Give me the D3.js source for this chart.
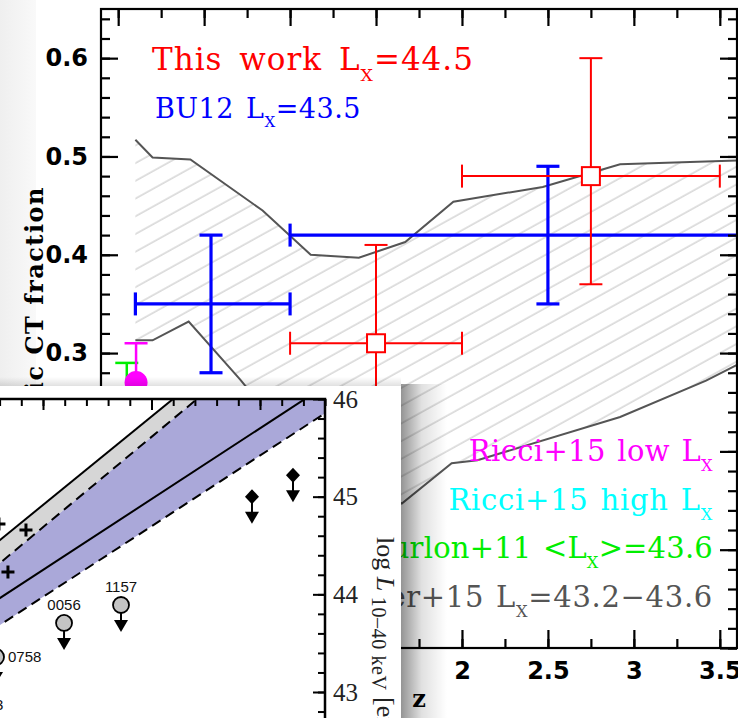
<!DOCTYPE html>
<html lang="en">
<head>
<meta charset="utf-8">
<script src="https://d3js.org/d3.v7.min.js"></script>
<style>
  body { margin: 0; background: #fff; }
  svg { display: block; }
</style>
</head>
<body>
<svg id="chart" width="738" height="718"></svg>
<script>
// ---------- main panel : CT fraction vs redshift ----------
// hatched band (upper / lower edges)
const upperZ = [0.1, 0.2, 0.42, 0.84, 1.12, 1.4, 1.67, 1.95, 2.47, 2.92, 3.6];
const upperF = [0.517, 0.499, 0.497, 0.445, 0.400, 0.397, 0.413, 0.454, 0.469, 0.492, 0.496];
const lowerZ = [0.1, 0.2, 0.41, 0.71, 1.1, 1.65, 1.94, 2.09, 2.92, 3.42, 3.6];
const lowerF = [0.313, 0.313, 0.332, 0.273, 0.19, 0.147, 0.188, 0.191, 0.235, 0.272, 0.288];

// this work (red)
const redZ = [1.5, 2.75], redZlo = [1.0, 2.0], redZhi = [2.0, 3.5];
const redF = [0.31, 0.48], redFlo = [0.2, 0.37], redFhi = [0.41, 0.60];
// BU12 (blue)
const blueZ = [0.54, 2.5], blueZlo = [0.1, 1.0], blueZhi = [1.0, 4.0];
const blueF = [0.35, 0.42], blueFlo = [0.28, 0.35], blueFhi = [0.42, 0.49];
// Ricci+15 low Lx (magenta), Burlon+11 (green)
const ricciZ = [0.104], ricciF = [0.27], ricciFlo = [0.21], ricciFhi = [0.31];
const burlonZ = [0.05], burlonF = [0.24], burlonFlo = [0.19], burlonFhi = [0.29];

const yTicks = [0, 0.1, 0.2, 0.3, 0.4, 0.5, 0.6];
const zTicks = [0, 0.5, 1, 1.5, 2, 2.5, 3, 3.5];

const legendRows = [
  { parts: [["Ricci+15 low L", 0], ["X", 1]], color: "#ff00ff", spacing: 0.35 },
  { parts: [["Ricci+15 high L", 0], ["X", 1]], color: "#00ffff", spacing: 0.75 },
  { parts: [["Burlon+11 <L", 0], ["X", 1], [">=43.6", 0]], color: "#00ee00", spacing: 0.2 },
  { parts: [["Buchner+15 L", 0], ["X", 1], ["=43.2\u221243.6", 0]], color: "#555555", spacing: 0.7 }
];

// ---------- inset panel : log L(10-40 keV) ----------
const bandV = [42.4, 45.8];
const solidHiL = [44.372, 47.45];
const dashHiL = [44.132, 47.277];
const solidMidL = [43.815, 46.28];
const dashLoL = [43.539, 46.0];

const plusV = [42.594, 42.843, 42.677];
const plusL = [44.72, 44.659, 44.229];

const srcV = [43.194, 43.719, 42.567, 42.217];
const srcL = [43.707, 43.891, 43.359, 42.87];
const srcId = ["0056", "1157", "0758", "0103"];
const srcPos = ["top", "top", "right", "right"];

const diaV = [44.926, 45.304];
const diaL = [45.0, 45.22];

const lumTicks = [43, 44, 45, 46];

// ------------------------------------------------------------
const svg = d3.select("#chart");
const defs = svg.append("defs");

svg.append("rect").attr("width", 738).attr("height", 718).attr("fill", "#fff");

// faint margin at the left of the main figure
const gl = defs.append("linearGradient").attr("id", "leftEdge");
gl.append("stop").attr("offset", "0").attr("stop-color", "#efefef");
gl.append("stop").attr("offset", "1").attr("stop-color", "#f9f9f9");
svg.append("rect").attr("x", 0).attr("y", 0).attr("width", 36).attr("height", 386).attr("fill", "url(#leftEdge)");

const x = d3.scaleLinear().domain([-0.1, 3.6]).range([101, 737]);
const y = d3.scaleLinear().domain([0, 0.65]).range([648, 9]);

const main = svg.append("g");

defs.append("clipPath").attr("id", "plotClip")
  .append("rect").attr("x", 101).attr("y", 9).attr("width", 636).attr("height", 639);

// hatch pattern
const pat = defs.append("pattern").attr("id", "hatch")
  .attr("patternUnits", "userSpaceOnUse").attr("width", 40).attr("height", 15.5)
  .attr("patternTransform", "rotate(-29)");
pat.append("line").attr("x1", 0).attr("x2", 40).attr("y1", 7).attr("y2", 7)
  .attr("stroke", "#dadada").attr("stroke-width", 1.7);

const bandPts = upperZ.map((z, i) => [x(z), y(upperF[i])])
  .concat(lowerZ.map((z, i) => [x(z), y(lowerF[i])]).reverse());
main.append("path").attr("d", "M" + bandPts.join("L") + "Z")
  .attr("fill", "url(#hatch)").attr("clip-path", "url(#plotClip)");

const line = d3.line().x(d => x(d[0])).y(d => y(d[1]));
[[upperZ, upperF], [lowerZ, lowerF]].forEach(([zs, fs]) => {
  main.append("path").attr("d", line(zs.map((z, i) => [z, fs[i]])))
    .attr("fill", "none").attr("stroke", "#555").attr("stroke-width", 2)
    .attr("clip-path", "url(#plotClip)");
});

// error bars
function errorBars(zs, zlo, zhi, fs, flo, fhi, color, w) {
  const g = main.append("g").attr("stroke", color).attr("stroke-width", w)
    .attr("clip-path", "url(#plotClip)");
  const cap = 11.5;
  zs.forEach((z, i) => {
    const cx = x(z), cy = y(fs[i]);
    g.append("line").attr("x1", cx).attr("x2", cx).attr("y1", y(flo[i])).attr("y2", y(fhi[i]));
    g.append("line").attr("x1", cx - cap).attr("x2", cx + cap).attr("y1", y(flo[i])).attr("y2", y(flo[i]));
    g.append("line").attr("x1", cx - cap).attr("x2", cx + cap).attr("y1", y(fhi[i])).attr("y2", y(fhi[i]));
    if (zlo) {
      g.append("line").attr("x1", x(zlo[i])).attr("x2", x(zhi[i])).attr("y1", cy).attr("y2", cy);
      g.append("line").attr("x1", x(zlo[i])).attr("x2", x(zlo[i])).attr("y1", cy - cap).attr("y2", cy + cap);
      g.append("line").attr("x1", x(zhi[i])).attr("x2", x(zhi[i])).attr("y1", cy - cap).attr("y2", cy + cap);
    }
  });
  return g;
}
errorBars(burlonZ, null, null, burlonF, burlonFlo, burlonFhi, "#00ee00", 2.5);
errorBars(ricciZ, null, null, ricciF, ricciFlo, ricciFhi, "#ff00ff", 2.5);
main.selectAll(".ricci").data(ricciZ).enter().append("circle")
  .attr("cx", d => x(d)).attr("cy", (d, i) => y(ricciF[i])).attr("r", 11.5)
  .attr("fill", "#ff00ff");
errorBars(blueZ, blueZlo, blueZhi, blueF, blueFlo, blueFhi, "#0000ff", 3.2);
errorBars(redZ, redZlo, redZhi, redF, redFlo, redFhi, "#ff0000", 2);
main.selectAll(".red").data(redZ).enter().append("rect")
  .attr("x", d => x(d) - 9).attr("y", (d, i) => y(redF[i]) - 9)
  .attr("width", 18).attr("height", 18)
  .attr("fill", "#fff").attr("stroke", "#ff0000").attr("stroke-width", 2);

// axes (ticks pointing inward)
const minorY = d3.range(0, 0.651, 0.02);
const minorZ = d3.range(-0.0, 3.6, 0.25);
function styleAxis(g) {
  g.select(".domain").remove();
  g.selectAll(".tick line").attr("stroke", "#000").attr("stroke-width", 2.2);
}
main.append("g").attr("transform", "translate(101,0)")
  .call(d3.axisLeft(y).tickValues(minorY).tickSize(-9).tickFormat("")).call(styleAxis);
main.append("g").attr("transform", "translate(101,0)")
  .call(d3.axisLeft(y).tickValues(yTicks).tickSize(-17).tickPadding(13).tickFormat(d3.format(".1f")))
  .call(styleAxis)
  .selectAll("text").attr("font-family", "DejaVu Sans").attr("font-weight", "bold").attr("font-size", 24).attr("fill", "#000");
main.append("g").attr("transform", "translate(737,0)")
  .call(d3.axisRight(y).tickValues(minorY).tickSize(-9).tickFormat("")).call(styleAxis);
main.append("g").attr("transform", "translate(737,0)")
  .call(d3.axisRight(y).tickValues(yTicks).tickSize(-17).tickFormat("")).call(styleAxis);
main.append("g").attr("transform", "translate(0,648)")
  .call(d3.axisBottom(x).tickValues(minorZ).tickSize(-9).tickFormat("")).call(styleAxis);
main.append("g").attr("transform", "translate(0,648)")
  .call(d3.axisBottom(x).tickValues(zTicks).tickSize(-18).tickPadding(14).tickFormat(d3.format("")))
  .call(styleAxis)
  .selectAll("text").attr("font-family", "DejaVu Sans").attr("font-weight", "bold").attr("font-size", 24).attr("fill", "#000");
main.append("g").attr("transform", "translate(0,9)")
  .call(d3.axisTop(x).tickValues(minorZ).tickSize(-9).tickFormat("")).call(styleAxis);
main.append("g").attr("transform", "translate(0,9)")
  .call(d3.axisTop(x).tickValues(zTicks).tickSize(-17).tickFormat("")).call(styleAxis);
main.append("rect").attr("x", 101).attr("y", 9).attr("width", 636).attr("height", 639)
  .attr("fill", "none").attr("stroke", "#000").attr("stroke-width", 2.2);

// text helper with subscripts
function richText(g, tx, ty, parts, size, color, anchor, spacing, wordSp) {
  const t = g.append("text").attr("x", tx).attr("y", ty).attr("fill", color)
    .attr("font-size", size).attr("font-family", "DejaVu Serif")
    .attr("text-anchor", anchor || "start")
    .attr("letter-spacing", spacing || 0).attr("word-spacing", wordSp || 0);
  const shift = 0.34 * size;
  let down = false;
  parts.forEach(([s, sub]) => {
    const ts = t.append("tspan").text(s);
    if (sub) { ts.attr("font-size", 0.56 * size).attr("dy", shift); down = true; }
    else if (down) { ts.attr("dy", -shift); down = false; }
  });
  return t;
}
richText(main, 152, 70, [["This work L", 0], ["X", 1], ["=44.5", 0]], 31, "#ff0000", "start", 1.0, 6);
richText(main, 155, 118, [["BU12 L", 0], ["X", 1], ["=43.5", 0]], 27, "#0000ff", "start", 0.5, 3);
legendRows.forEach((r, i) => {
  richText(main, 713, 461 + i * 48.7, r.parts, 29, r.color, "end", r.spacing, 2);
});

main.append("text").attr("transform", "translate(43,186) rotate(-90)")
  .attr("text-anchor", "end").attr("font-family", "DejaVu Serif").attr("font-weight", "bold")
  .attr("font-size", 24).attr("letter-spacing", 1.5).text("Intrinsic CT fraction");
main.append("text").attr("x", 419).attr("y", 707).attr("text-anchor", "middle")
  .attr("font-family", "DejaVu Serif").attr("font-weight", "bold").attr("font-size", 24).text("z");

// ---------- inset (pasted figure with drop shadow) ----------
const gr = defs.append("linearGradient").attr("id", "shadowR");
gr.append("stop").attr("offset", "0").attr("stop-color", "#000").attr("stop-opacity", 0.42);
gr.append("stop").attr("offset", "0.45").attr("stop-color", "#000").attr("stop-opacity", 0.12);
gr.append("stop").attr("offset", "1").attr("stop-color", "#000").attr("stop-opacity", 0);
const gt = defs.append("linearGradient").attr("id", "shadowT").attr("x1", 0).attr("x2", 0).attr("y1", 1).attr("y2", 0);
gt.append("stop").attr("offset", "0").attr("stop-color", "#000").attr("stop-opacity", 0.12);
gt.append("stop").attr("offset", "1").attr("stop-color", "#000").attr("stop-opacity", 0);
svg.append("rect").attr("x", 401).attr("y", 384).attr("width", 46).attr("height", 334).attr("fill", "url(#shadowR)");
svg.append("rect").attr("x", 0).attr("y", 377).attr("width", 401).attr("height", 9).attr("fill", "url(#shadowT)");
svg.append("rect").attr("x", 0).attr("y", 386).attr("width", 401).attr("height", 332).attr("fill", "#fff");

const inset = svg.append("g");
const ix = d3.scaleLinear().domain([43, 45]).range([43, 260]);
const iy = d3.scaleLinear().domain([43, 46]).range([692, 399]);

defs.append("clipPath").attr("id", "insetClip")
  .append("rect").attr("x", -50).attr("y", 399).attr("width", 375).attr("height", 330);

function bandPath(a, b) {
  const pts = bandV.map((v, i) => [ix(v), iy(a[i])])
    .concat(bandV.map((v, i) => [ix(v), iy(b[i])]).reverse());
  return "M" + pts.join("L") + "Z";
}
inset.append("path").attr("d", bandPath(solidHiL, dashHiL)).attr("fill", "#d6d6d6").attr("clip-path", "url(#insetClip)");
inset.append("path").attr("d", bandPath(dashHiL, dashLoL)).attr("fill", "#aaa8d9").attr("clip-path", "url(#insetClip)");
[[solidHiL, null], [dashHiL, "10,6"], [solidMidL, null], [dashLoL, "10,6"]].forEach(([ls, dash]) => {
  inset.append("line")
    .attr("x1", ix(bandV[0])).attr("y1", iy(ls[0])).attr("x2", ix(bandV[1])).attr("y2", iy(ls[1]))
    .attr("stroke", "#000").attr("stroke-width", 2).attr("stroke-dasharray", dash)
    .attr("clip-path", "url(#insetClip)");
});

// inset axes
const iMinorV = d3.range(42.6, 45.61, 0.2);
const iMinorL = d3.range(42.6, 46.01, 0.2);
function styleInset(g) {
  g.select(".domain").remove();
  g.selectAll(".tick line").attr("stroke", "#000").attr("stroke-width", 2);
}
inset.append("g").attr("transform", "translate(0,399)")
  .call(d3.axisTop(ix).tickValues(iMinorV).tickSize(-7).tickFormat("")).call(styleInset);
inset.append("g").attr("transform", "translate(0,399)")
  .call(d3.axisTop(ix).tickValues([43, 44, 45]).tickSize(-11).tickFormat("")).call(styleInset);
inset.append("g").attr("transform", "translate(325,0)")
  .call(d3.axisRight(iy).tickValues(iMinorL).tickSize(-7).tickFormat("")).call(styleInset);
inset.append("g").attr("transform", "translate(325,0)")
  .call(d3.axisRight(iy).tickValues(lumTicks).tickSize(-12).tickPadding(8).tickFormat(d3.format("d")))
  .call(styleInset)
  .selectAll("text").attr("font-family", "Liberation Serif").attr("font-size", 25).attr("fill", "#222");
inset.append("path").attr("d", "M-5,399H325V720")
  .attr("fill", "none").attr("stroke", "#000").attr("stroke-width", 2.5);

// plus markers
plusV.forEach((v, i) => {
  const cx = ix(v), cy = iy(plusL[i]);
  inset.append("path").attr("d", `M${cx - 6.5},${cy}H${cx + 6.5}M${cx},${cy - 6.5}V${cy + 6.5}`)
    .attr("stroke", "#000").attr("stroke-width", 3);
});

// upper-limit arrows
function arrow(cx, cy) {
  inset.append("line").attr("x1", cx).attr("x2", cx).attr("y1", cy).attr("y2", cy + 16)
    .attr("stroke", "#000").attr("stroke-width", 2);
  inset.append("path").attr("d", `M${cx - 7},${cy + 15}L${cx + 7},${cy + 15}L${cx},${cy + 27}Z`).attr("fill", "#000");
}
srcV.forEach((v, i) => {
  const cx = ix(v), cy = iy(srcL[i]);
  arrow(cx, cy);
  inset.append("circle").attr("cx", cx).attr("cy", cy).attr("r", 8)
    .attr("fill", "#c4c4c4").attr("stroke", "#000").attr("stroke-width", 1.8);
  const t = inset.append("text").attr("font-family", "Liberation Sans").attr("font-size", 15).attr("fill", "#111").text(srcId[i]);
  if (srcPos[i] === "top") t.attr("x", cx).attr("y", cy - 13).attr("text-anchor", "middle");
  else t.attr("x", cx + 12).attr("y", cy + 5);
});
diaV.forEach((v, i) => {
  const cx = ix(v), cy = iy(diaL[i]);
  arrow(cx, cy);
  inset.append("path").attr("d", `M${cx},${cy - 7.5}L${cx + 7},${cy}L${cx},${cy + 7.5}L${cx - 7},${cy}Z`).attr("fill", "#000");
});

// inset y label (rotated)
const yl = inset.append("text").attr("transform", "translate(377,537) rotate(90)")
  .attr("font-family", "Liberation Serif").attr("font-size", 26).attr("fill", "#222");
yl.append("tspan").text("log ");
yl.append("tspan").attr("font-style", "italic").text("L");
yl.append("tspan").attr("font-size", 20).attr("dy", 5).attr("letter-spacing", 0.6).text(" 10\u201340 keV");
yl.append("tspan").attr("dy", -5).text(" [erg s");
yl.append("tspan").attr("font-size", 17).attr("dy", -9).text("\u22121");
yl.append("tspan").attr("dy", 9).text("]");
</script>
</body>
</html>
